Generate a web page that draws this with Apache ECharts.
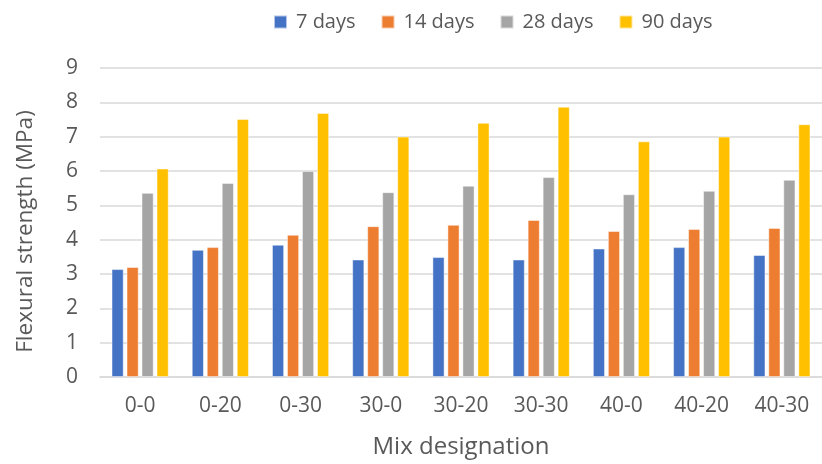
<!DOCTYPE html>
<html><head><meta charset="utf-8">
<script src="https://cdn.jsdelivr.net/npm/echarts@6/dist/echarts.min.js"></script>
<style>html,body{margin:0;padding:0;background:#fff}#c{width:822px;height:464px}</style>
</head><body><div id="c"></div>
<script>
const categories = ['0-0','0-20','0-30','30-0','30-20','30-30','40-0','40-20','40-30'];
const days7  = [3.14, 3.70, 3.85, 3.42, 3.49, 3.42, 3.74, 3.78, 3.55];
const days14 = [3.20, 3.78, 4.14, 4.39, 4.43, 4.57, 4.25, 4.31, 4.34];
const days28 = [5.36, 5.65, 6.00, 5.38, 5.57, 5.82, 5.32, 5.42, 5.74];
const days90 = [6.07, 7.51, 7.69, 7.00, 7.40, 7.87, 6.86, 7.00, 7.36];
const seriesNames = ['7 days','14 days','28 days','90 days'];
const colors = ['#4472C4','#ED7D31','#A5A5A5','#FFC000'];
const yTicks = [0,9,1];

const font = 'Open Sans';
const chart = echarts.init(document.getElementById('c'));
const mk = (name, data, i) => ({
  name, type: 'bar', data, barWidth: 12, barGap: '25%',
  itemStyle: { color: colors[i], borderColor: 'rgba(255,255,255,0.6)', borderWidth: 0.8 }
});
chart.setOption({
  animation: false,
  textStyle: { fontFamily: font },
  legend: {
    top: 12, left: 273, padding: 0, itemWidth: 13, itemHeight: 13, itemGap: 25, icon: 'rect',
    textStyle: { fontSize: 20, color: '#595959', fontFamily: font, padding: [0, 0, 0, 4] }
  },
  grid: { left: 100, top: 68, width: 733, height: 309, containLabel: false },
  xAxis: {
    type: 'category', data: categories,
    name: 'Mix designation', nameLocation: 'middle', nameGap: 58,
    nameTextStyle: { fontSize: 24, color: '#595959', fontFamily: font },
    axisLine: { lineStyle: { color: '#d9d9d9', width: 1.5 } },
    axisTick: { show: false },
    axisLabel: { fontSize: 21, color: '#595959', margin: 19 }
  },
  yAxis: {
    type: 'value', min: yTicks[0], max: yTicks[1], interval: yTicks[2],
    name: 'Flexural strength (MPa)', nameLocation: 'middle', nameGap: 63, nameRotate: 90,
    nameTextStyle: { fontSize: 22.5, color: '#595959', fontFamily: font, padding: [0, 18, 0, 0] },
    axisLine: { show: false }, axisTick: { show: false },
    splitLine: { lineStyle: { color: '#d9d9d9', width: 1.5 } },
    axisLabel: { fontSize: 21, color: '#595959', margin: 22 }
  },
  series: [mk(seriesNames[0], days7, 0), mk(seriesNames[1], days14, 1), mk(seriesNames[2], days28, 2), mk(seriesNames[3], days90, 3)]
});
</script></body></html>
